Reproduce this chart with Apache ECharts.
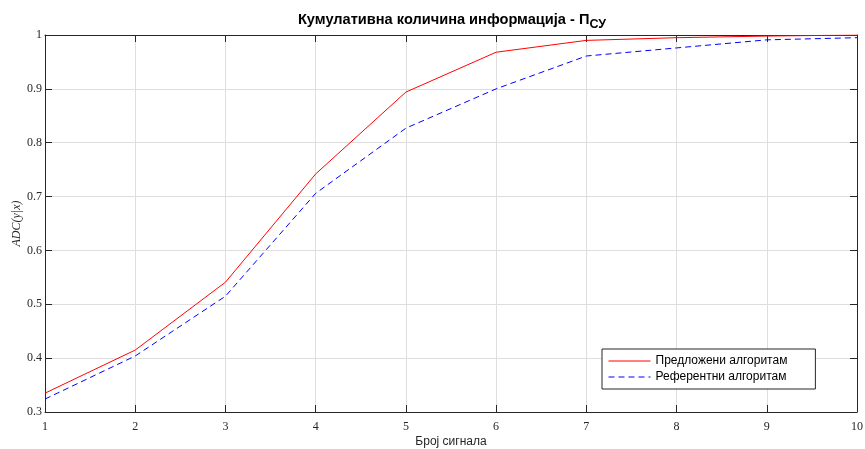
<!DOCTYPE html>
<html>
<head>
<meta charset="utf-8">
<script src="https://cdn.jsdelivr.net/npm/echarts@6/dist/echarts.min.js"></script>
<style>
  html, body { margin: 0; padding: 0; background: #fff; }
  #chart { width: 865px; height: 449px; }
</style>
</head>
<body>
<div id="chart"></div>
<script>
// Number of signals on the horizontal axis
const signalCounts = [1, 2, 3, 4, 5, 6, 7, 8, 9, 10];
// Cumulative information amount, proposed algorithm
const proposedValues = [0.335, 0.415, 0.541, 0.742, 0.894, 0.968, 0.990, 0.995, 0.998, 1.000];
// Cumulative information amount, reference algorithm
const referenceValues = [0.324, 0.404, 0.515, 0.706, 0.827, 0.900, 0.961, 0.976, 0.991, 0.995];
const seriesNames = ['Предложени алгоритам', 'Референтни алгоритам'];

const chart = echarts.init(document.getElementById('chart'));

const serif = '"Liberation Serif", "DejaVu Serif", serif';
const sans = '"Liberation Sans", Arial, sans-serif';
const axisColor = '#262626';

function pairs(vals) { return signalCounts.map((x, i) => [x, vals[i]]); }

const boxAxis = {
  axisLine: { show: true, onZero: false, lineStyle: { color: axisColor, width: 1 } },
  axisTick: { show: true, inside: true, length: 7, lineStyle: { color: axisColor } },
};

chart.setOption({
  animation: false,
  backgroundColor: '#fff',
  title: {
    text: '{t|Кумулативна количина информација - П}{s|СУ}',
    left: 447, top: 3, textAlign: 'center',
    textStyle: {
      rich: {
        t: { fontFamily: sans, fontSize: 14.6, fontWeight: 'bold', color: '#000' },
        s: { fontFamily: sans, fontSize: 12.5, fontWeight: 'bold', color: '#000', padding: [10, 0, 0, 0] }
      }
    }
  },
  grid: { left: 45, right: 8, top: 35, bottom: 37, containLabel: false, outerBoundsMode: 'none' },
  legend: {
    orient: 'vertical',
    left: 602, top: 349,
    padding: [6, 28, 6, 6],
    itemGap: 4,
    itemWidth: 42, itemHeight: 10,
    borderColor: axisColor, borderWidth: 1,
    backgroundColor: '#fff',
    itemStyle: { opacity: 0 },
    lineStyle: { width: 1 },
    textStyle: { fontFamily: sans, fontSize: 12, color: '#000' },
    data: seriesNames
  },
  xAxis: [
    Object.assign({
      type: 'value', min: 1, max: 10, interval: 1,
      name: 'Број сигнала', nameLocation: 'middle', nameGap: 24, nameMoveOverlap: false,
      nameTextStyle: { fontFamily: sans, fontSize: 12, color: '#262626' },
      axisLabel: { fontFamily: serif, fontSize: 12, color: '#262626', margin: 9 },
      splitLine: { show: true, lineStyle: { color: '#dedede', width: 1 } }
    }, boxAxis),
    Object.assign({
      type: 'value', min: 1, max: 10, interval: 1, position: 'top',
      axisLabel: { show: false }, splitLine: { show: false }
    }, boxAxis)
  ],
  yAxis: [
    Object.assign({
      type: 'value', min: 0.3, max: 1, interval: 0.1,
      name: 'ADC(y|x)', nameLocation: 'middle', nameGap: 22, nameMoveOverlap: false,
      nameTextStyle: { fontFamily: serif, fontSize: 12, fontStyle: 'italic', color: '#262626' },
      axisLabel: {
        fontFamily: serif, fontSize: 12, color: '#262626', margin: 3,
        formatter: v => (Math.round(v * 10) / 10).toString()
      },
      splitLine: { show: true, lineStyle: { color: '#dedede', width: 1 } }
    }, boxAxis),
    Object.assign({
      type: 'value', min: 0.3, max: 1, interval: 0.1, position: 'right',
      axisLabel: { show: false }, splitLine: { show: false }
    }, boxAxis)
  ],
  series: [
    {
      name: seriesNames[0], type: 'line', xAxisIndex: 0, yAxisIndex: 0,
      data: pairs(proposedValues),
      showSymbol: false, symbol: 'none',
      lineStyle: { color: '#ff0000', width: 1 },
      itemStyle: { color: '#ff0000' }
    },
    {
      name: seriesNames[1], type: 'line', xAxisIndex: 0, yAxisIndex: 0,
      data: pairs(referenceValues),
      showSymbol: false, symbol: 'none',
      lineStyle: { color: '#0000ff', width: 1, type: [6, 4] },
      itemStyle: { color: '#0000ff' }
    }
  ]
});
</script>
</body>
</html>
